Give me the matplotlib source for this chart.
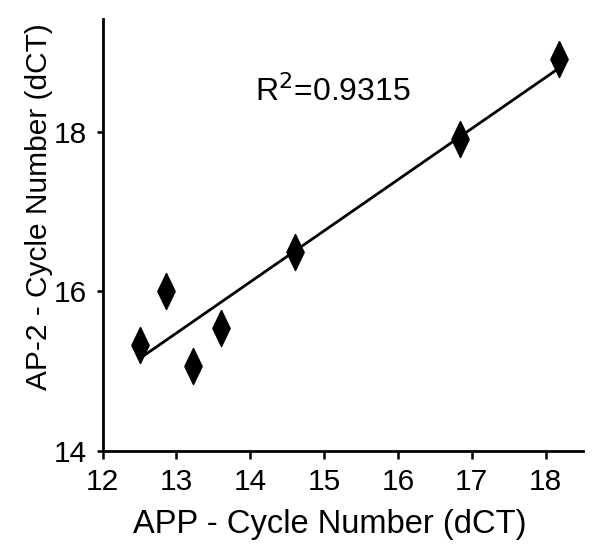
import numpy as np
import matplotlib
matplotlib.use('Agg')
from matplotlib import pyplot as plt

plt.rcParams['font.family'] = ['Liberation Sans', 'DejaVu Sans']

# APP vs AP-2 cycle numbers (dCT)
app_dct = [12.50, 12.86, 13.22, 13.60, 14.60, 16.84, 18.18]
ap2_dct = [15.33, 16.01, 15.07, 15.54, 16.49, 17.91, 18.92]
x_ticks = [12, 13, 14, 15, 16, 17, 18]
y_ticks = [14, 16, 18]
r2_label = 'R$^2$=0.9315'

fig = plt.figure(figsize=(6, 5.56), dpi=100)
ax = fig.add_axes([0.171, 0.189, 0.8, 0.776])

diamond = [(0, 1), (0.48, 0), (0, -1), (-0.48, 0), (0, 1)]
ax.plot(app_dct, ap2_dct, linestyle='none', marker=diamond, markersize=26,
        color='black', zorder=3)

# linear fit drawn over the data range
slope, intercept = np.polyfit(app_dct, ap2_dct, 1)
xs = np.array([min(app_dct), max(app_dct)])
ax.plot(xs, slope * xs + intercept, color='black', linewidth=2.0, zorder=2)

ax.text(15.12, 18.50, r2_label, fontsize=23, ha='center', va='center')

ax.set_xlim(12, 18.5)
ax.set_ylim(14, 19.41)
ax.set_xticks(x_ticks)
ax.set_yticks(y_ticks)
ax.spines['top'].set_visible(False)
ax.spines['right'].set_visible(False)
ax.spines['left'].set_linewidth(2)
ax.spines['bottom'].set_linewidth(2)
ax.tick_params(axis='x', length=6, width=1.8, pad=6, labelsize=21.5)
ax.tick_params(axis='y', length=4, width=1.8, pad=7, labelsize=21.5)

ax.set_xlabel('APP - Cycle Number (dCT)', fontsize=23.5)
ax.set_ylabel('AP-2 - Cycle Number (dCT)', fontsize=21.5)
ax.xaxis.set_label_coords(0.474, -0.135)
ax.yaxis.set_label_coords(-0.103, 0.567)

fig.savefig('out.png', dpi=100)
